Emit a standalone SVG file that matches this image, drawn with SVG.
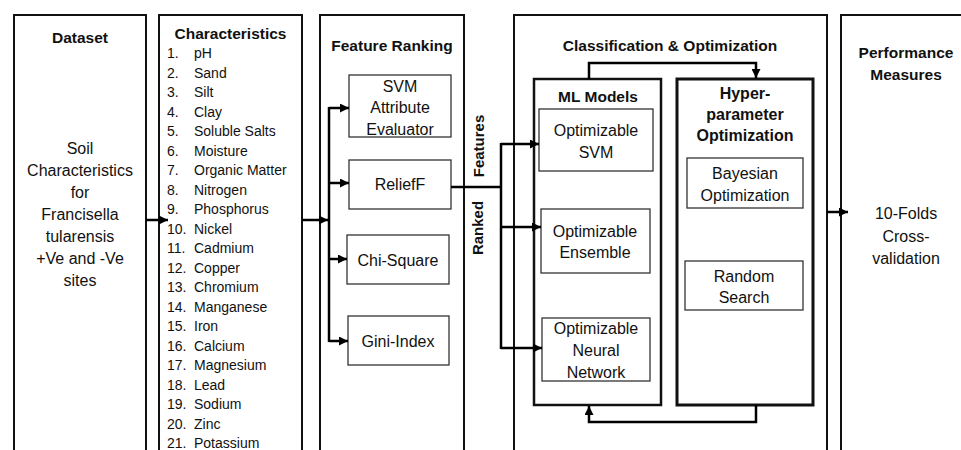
<svg xmlns="http://www.w3.org/2000/svg" width="961" height="450" viewBox="0 0 961 450">
<style>
text{font-family:"Liberation Sans",Arial,sans-serif;fill:#111;}
.t{font-size:15.5px;font-weight:bold;text-anchor:middle;}
.b{font-size:16px;text-anchor:middle;}
.l{font-size:14px;}
.outer{fill:none;stroke:#111;stroke-width:2;}
.inner{fill:#fff;stroke:#333;stroke-width:1.3;}
.grp{fill:none;stroke:#111;stroke-width:2.5;}
.c{fill:none;stroke:#000;stroke-width:2.5;}
</style>
<defs>
<marker id="ah" markerUnits="userSpaceOnUse" markerWidth="10" markerHeight="9" refX="9" refY="4.5" orient="auto">
<path d="M0,0 L9,4.5 L0,9 z" fill="#000"/>
</marker>
</defs>
<rect width="961" height="450" fill="#fff"/>

<g id="dataset">
<rect class="outer" x="14" y="15" width="132" height="450"/>
<text class="t" x="80" y="43">Dataset</text>
<text class="b" x="80" y="154">Soil</text>
<text class="b" x="80" y="176">Characteristics</text>
<text class="b" x="80" y="198">for</text>
<text class="b" x="80" y="220">Francisella</text>
<text class="b" x="80" y="242">tularensis</text>
<text class="b" x="80" y="264">+Ve and -Ve</text>
<text class="b" x="80" y="286">sites</text>
</g>

<g id="characteristics">
<rect class="outer" x="159" y="15" width="143" height="450"/>
<text class="t" x="230.5" y="39">Characteristics</text>
<g class="l">
<text class="l" x="167" y="58">1.</text><text class="l" x="194" y="58">pH</text>
<text class="l" x="167" y="77.5">2.</text><text class="l" x="194" y="77.5">Sand</text>
<text class="l" x="167" y="97">3.</text><text class="l" x="194" y="97">Silt</text>
<text class="l" x="167" y="116.5">4.</text><text class="l" x="194" y="116.5">Clay</text>
<text class="l" x="167" y="136">5.</text><text class="l" x="194" y="136">Soluble Salts</text>
<text class="l" x="167" y="155.5">6.</text><text class="l" x="194" y="155.5">Moisture</text>
<text class="l" x="167" y="175">7.</text><text class="l" x="194" y="175">Organic Matter</text>
<text class="l" x="167" y="194.5">8.</text><text class="l" x="194" y="194.5">Nitrogen</text>
<text class="l" x="167" y="214">9.</text><text class="l" x="194" y="214">Phosphorus</text>
<text class="l" x="167" y="233.5">10.</text><text class="l" x="194" y="233.5">Nickel</text>
<text class="l" x="167" y="253">11.</text><text class="l" x="194" y="253">Cadmium</text>
<text class="l" x="167" y="272.5">12.</text><text class="l" x="194" y="272.5">Copper</text>
<text class="l" x="167" y="292">13.</text><text class="l" x="194" y="292">Chromium</text>
<text class="l" x="167" y="311.5">14.</text><text class="l" x="194" y="311.5">Manganese</text>
<text class="l" x="167" y="331">15.</text><text class="l" x="194" y="331">Iron</text>
<text class="l" x="167" y="350.5">16.</text><text class="l" x="194" y="350.5">Calcium</text>
<text class="l" x="167" y="370">17.</text><text class="l" x="194" y="370">Magnesium</text>
<text class="l" x="167" y="389.5">18.</text><text class="l" x="194" y="389.5">Lead</text>
<text class="l" x="167" y="409">19.</text><text class="l" x="194" y="409">Sodium</text>
<text class="l" x="167" y="428.5">20.</text><text class="l" x="194" y="428.5">Zinc</text>
<text class="l" x="167" y="448">21.</text><text class="l" x="194" y="448">Potassium</text>
</g>
</g>

<g id="feature-ranking">
<rect class="outer" x="320" y="15" width="144" height="450"/>
<text class="t" x="392" y="51">Feature Ranking</text>
</g>
<g id="svm-attr">
<rect class="inner" x="349" y="75" width="102" height="62"/>
<text class="b" x="400" y="92">SVM</text>
<text class="b" x="400" y="113">Attribute</text>
<text class="b" x="400" y="135">Evaluator</text>
</g>
<g id="relieff">
<rect class="inner" x="349" y="160" width="102" height="49"/>
<text class="b" x="400" y="190">ReliefF</text>
</g>
<g id="chi-square">
<rect class="inner" x="347" y="235" width="102" height="49"/>
<text class="b" x="398" y="266">Chi-Square</text>
</g>
<g id="gini-index">
<rect class="inner" x="348" y="316" width="101" height="49"/>
<text class="b" x="398" y="347">Gini-Index</text>
</g>

<g id="classification">
<rect class="outer" x="514" y="15" width="313" height="450"/>
<text class="t" x="670" y="51">Classification &amp; Optimization</text>
</g>
<g id="ml-models">
<rect class="grp" x="534" y="79" width="127" height="326"/>
<text class="t" x="598" y="102">ML Models</text>
</g>
<g id="opt-svm">
<rect class="inner" x="539" y="109" width="114" height="62"/>
<text class="b" x="596" y="136">Optimizable</text>
<text class="b" x="596" y="158">SVM</text>
</g>
<g id="opt-ensemble">
<rect class="inner" x="541" y="209" width="109" height="64"/>
<text class="b" x="595" y="237">Optimizable</text>
<text class="b" x="595" y="258">Ensemble</text>
</g>
<g id="opt-nn">
<rect class="inner" x="542" y="318" width="108" height="63"/>
<text class="b" x="596" y="334">Optimizable</text>
<text class="b" x="596" y="356">Neural</text>
<text class="b" x="596" y="378">Network</text>
</g>
<g id="hyperparameter">
<rect class="grp" x="677" y="79" width="136" height="326" style="stroke-width:3"/>
<text class="t" style="font-size:16px" x="745" y="99">Hyper-</text>
<text class="t" style="font-size:16px" x="745" y="120">parameter</text>
<text class="t" style="font-size:16px" x="745" y="141">Optimization</text>
</g>
<g id="bayesian">
<rect class="inner" x="687" y="158" width="116" height="50"/>
<text class="b" x="745" y="179">Bayesian</text>
<text class="b" x="745" y="201">Optimization</text>
</g>
<g id="random-search">
<rect class="inner" x="685" y="261" width="118" height="49"/>
<text class="b" x="744" y="282">Random</text>
<text class="b" x="744" y="303">Search</text>
</g>

<g id="performance">
<rect class="outer" x="841" y="15" width="140" height="450"/>
<text class="t" x="906" y="58">Performance</text>
<text class="t" x="906" y="80">Measures</text>
<text class="b" x="906" y="219">10-Folds</text>
<text class="b" x="906" y="242">Cross-</text>
<text class="b" x="906" y="264">validation</text>
</g>

<g id="connectors">
<path class="c" d="M146,220 H168" marker-end="url(#ah)"/>
<path class="c" d="M302,220 H328" marker-end="url(#ah)"/>
<path class="c" d="M329,107 V342"/>
<path class="c" d="M329,108 H349" marker-end="url(#ah)"/>
<path class="c" d="M329,183 H349" marker-end="url(#ah)"/>
<path class="c" d="M329,259 H347" marker-end="url(#ah)"/>
<path class="c" d="M329,341 H348" marker-end="url(#ah)"/>
<path class="c" d="M451,187 H501"/>
<path class="c" d="M501,143 V349"/>
<path class="c" d="M501,144 H539" marker-end="url(#ah)"/>
<path class="c" d="M501,227 H541" marker-end="url(#ah)"/>
<path class="c" d="M501,348 H542" marker-end="url(#ah)"/>
<path class="c" d="M589,79 V63 H756 V78" marker-end="url(#ah)"/>
<path class="c" d="M756,405 V422 H589 V406" marker-end="url(#ah)"/>
<path class="c" d="M827,212 H848" marker-end="url(#ah)"/>
<text class="t" style="font-size:15px" transform="translate(484,146) rotate(-90)" x="0" y="0">Features</text>
<text class="t" style="font-size:15px" transform="translate(483,228) rotate(-90)" x="0" y="0">Ranked</text>
</g>
</svg>
